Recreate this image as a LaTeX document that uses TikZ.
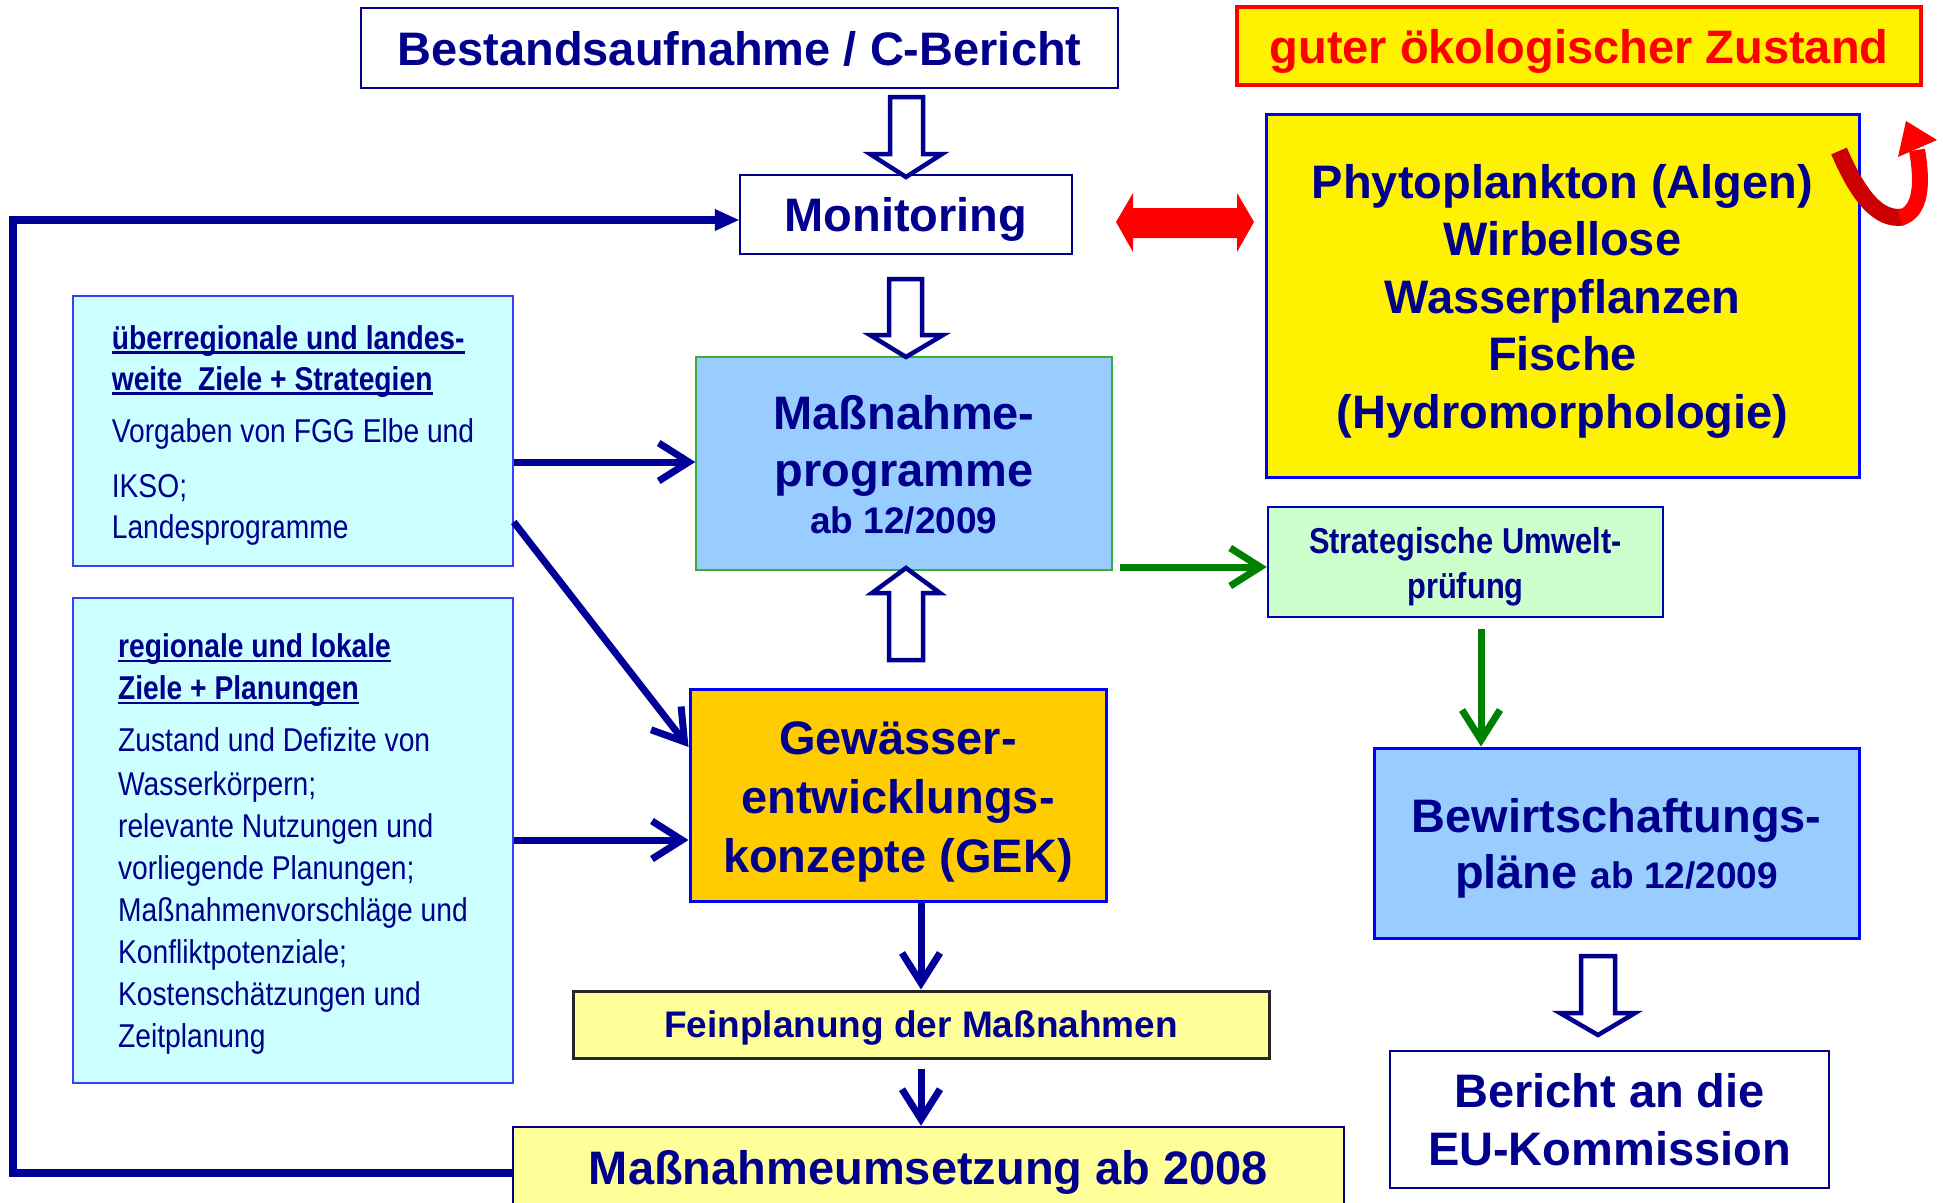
\documentclass[tikz,border=0pt]{standalone}
\usepackage{fontspec}
\setmainfont{Liberation Sans}
\newfontfamily\narrowfont[FakeStretch=0.855]{Liberation Sans}
\usetikzlibrary{arrows.meta}
\definecolor{tblue}{RGB}{0,0,140}
\definecolor{lblue}{RGB}{0,0,153}
\definecolor{bblue}{RGB}{0,0,255}
\definecolor{mblue}{RGB}{60,60,255}
\definecolor{cyanfill}{RGB}{204,255,255}
\definecolor{skyfill}{RGB}{153,204,255}
\definecolor{orfill}{RGB}{255,204,0}
\definecolor{lyfill}{RGB}{255,255,153}
\definecolor{lgfill}{RGB}{204,255,204}
\definecolor{gline}{RGB}{0,128,0}
\definecolor{gborder}{RGB}{60,170,60}
\definecolor{dred}{RGB}{204,0,0}
\newcommand\ulx[1]{\setbox0\hbox{#1}\rlap{\rule[-4.5pt]{\wd0}{2.2pt}}\box0}
\newcommand\hs[1]{\rule{0pt}{#1pt}}
\newcommand\ds[1]{\rule[-#1pt]{0pt}{#1pt}}
\begin{document}
\begin{tikzpicture}[x=1pt,y=-1pt,
  box/.style={rectangle, inner sep=0pt, align=center, text=tblue},
  bigtxt/.style={font=\bfseries\fontsize{47}{57.5}\selectfont},
  onel/.style={text height=34pt, text depth=0pt},
  smalltxt/.style={font=\narrowfont\fontsize{33}{41}\selectfont, align=left},
  navyarrow/.style={draw=lblue, line width=7pt, -{Straight Barb[length=30pt,width=38pt]}},
  greenarrow/.style={draw=gline, line width=7pt, -{Straight Barb[length=30pt,width=38pt]}},
  hollow/.style={draw=tblue, line width=4.5pt, fill=white, line join=miter}
]
\useasboundingbox (0,0) rectangle (1943,1202);
\fill[white] (0,0) rectangle (1943,1202);

% boxes
\node[box, bigtxt, onel, draw=tblue, line width=2.5pt, minimum width=757pt, minimum height=80pt] (best) at (739.5,48) {Bestandsaufnahme / C-Bericht};
\node[box, bigtxt, onel, draw=red, fill=yellow, line width=4.5pt, minimum width=684pt, minimum height=78pt, text=red] (goal) at (1579,46) {guter ökologischer Zustand};
\node[box, bigtxt, onel, draw=tblue, line width=2.5pt, minimum width=332pt, minimum height=79pt] (mon) at (906,214.5) {Monitoring};
\node[box, bigtxt, draw=bblue, fill=yellow, line width=3pt, minimum width=593pt, minimum height=363pt] (phy) at (1562.5,295.5)
  {\hs{45}Phytoplankton (Algen)\\Wirbellose\\Wasserpflanzen\\Fische\\(Hydromorphologie)\ds{10}};
\node[box, bigtxt, draw=gborder, fill=skyfill, line width=1.5pt, minimum width=416pt, minimum height=213pt] (mass) at (904,463.5)
  {\hs{36.5}Maßnahme-\\programme\\[-10.5pt]{\fontsize{37}{44}\selectfont ab 12/2009}};
\node[box, smalltxt, draw=mblue, fill=cyanfill, line width=1.5pt, minimum width=440pt, minimum height=270pt] (ueber) at (293,431)
  {\hs{32.5}\textbf{\ulx{überregionale und landes-}}\\\textbf{\ulx{weite\ \ Ziele + Strategien}}\\[11pt]Vorgaben von FGG Elbe und\\[14pt]IKSO;\\Landesprogramme\ds{7.5}};
\node[box, smalltxt, font=\narrowfont\fontsize{33}{42}\selectfont, draw=mblue, fill=cyanfill, line width=1.5pt, minimum width=440pt, minimum height=485pt] (reg) at (293,840.5)
  {\hs{31.5}\textbf{\ulx{regionale und lokale}}\\\textbf{\ulx{Ziele + Planungen}}\\[10pt]Zustand und Defizite von\\[2pt]Wasserkörpern;\\relevante Nutzungen und\\vorliegende Planungen;\\Maßnahmenvorschläge und\\Konfliktpotenziale;\\Kostenschätzungen und\\Zeitplanung\ds{7.5}};
\node[box, bigtxt, draw=bblue, fill=orfill, line width=3pt, minimum width=416pt, minimum height=212pt] (gek) at (898,795)
  {\hs{46}Gewässer-\\[1.5pt]entwicklungs-\\[1.5pt]konzepte (GEK)\ds{10}};
\node[box, font=\narrowfont\bfseries\fontsize{36}{45}\selectfont, draw=tblue!70!bblue, fill=lgfill, line width=2.5pt, minimum width=395pt, minimum height=110pt] (sup) at (1465.5,562)
  {\hs{35}Strategische Umwelt-\\prüfung\ds{8}};
\node[box, bigtxt, draw=bblue, fill=skyfill, line width=3pt, minimum width=485pt, minimum height=190pt] (bew) at (1616.5,843)
  {\hs{44}Bewirtschaftungs-\\[-1.5pt]pläne {\fontsize{37}{44}\selectfont ab 12/2009}\ds{10}};
\node[box, font=\bfseries\fontsize{37}{44}\selectfont, text height=26pt, text depth=0pt, draw=black!85, fill=lyfill, line width=3pt, minimum width=696pt, minimum height=67pt] (fein) at (921,1024.5) {Feinplanung der Maßnahmen};
\node[box, bigtxt, onel, draw=tblue, fill=lyfill, line width=2.5pt, minimum width=831pt, minimum height=80pt] (ums) at (928.5,1167) {Maßnahmeumsetzung ab 2008};
\node[box, bigtxt, draw=tblue, fill=white, line width=2.5pt, minimum width=439pt, minimum height=137pt] (ber) at (1609.5,1119.5)
  {\hs{35}Bericht an die\\[0.5pt]EU-Kommission};

% line arrows
\draw[navyarrow] (ueber.east |- 0,462) -- (mass.west |- 0,462);
\draw[navyarrow] (ueber.east |- 0,522) -- (gek.west |- 0,747);
\draw[navyarrow] (reg.east |- 0,840) -- (gek.west |- 0,840);
\draw[navyarrow] (gek.south -| fein.north) -- (fein.north);
\draw[navyarrow, shorten <=9pt] (fein.south) -- (fein.south |- ums.north);
\draw[draw=lblue, line width=7.5pt, line join=miter, -{Triangle[length=24pt,width=22pt,line width=0.5pt]}]
  (ums.west |- 0,1173) -- (13,1173) -- (13,220) -- (mon.west |- 0,220);
\draw[greenarrow, shorten <=7pt] (mass.east |- 0,567) -- (sup.west |- 0,567);
\draw[greenarrow, shorten <=11pt] (sup.south -| 1481,0) -- (bew.north -| 1481,0);

% hollow block arrows
\draw[hollow] (890,97) -- (923,97) -- (923,154) -- (942,154) -- (906,177) -- (870,154) -- (890,154) -- cycle;
\draw[hollow] (889,279) -- (922,279) -- (922,335) -- (943,335) -- (906,357) -- (870,335) -- (889,335) -- cycle;
\draw[hollow] (889,660) -- (923,660) -- (923,593) -- (940,593) -- (906,568) -- (872,593) -- (889,593) -- cycle;
\draw[hollow] (1581,956) -- (1615,956) -- (1615,1013) -- (1635,1013) -- (1598,1035) -- (1560,1013) -- (1581,1013) -- cycle;

% red double arrow
\fill[red] (1116,222) -- (1133,193) -- (1133,208) -- (1237,208) -- (1237,193) -- (1254,222) -- (1237,252) -- (1237,238) -- (1133,238) -- (1133,252) -- cycle;

% red curved arrow
\draw[dred, line width=17pt] (1839,151) .. controls (1858,195) and (1878,221) .. (1903,217);
\draw[red, line width=16pt] (1900,218) .. controls (1921,212) and (1923,185) .. (1917,150);
\fill[red] (1906,121) -- (1937,140) -- (1898,157) -- cycle;
\end{tikzpicture}
\end{document}
